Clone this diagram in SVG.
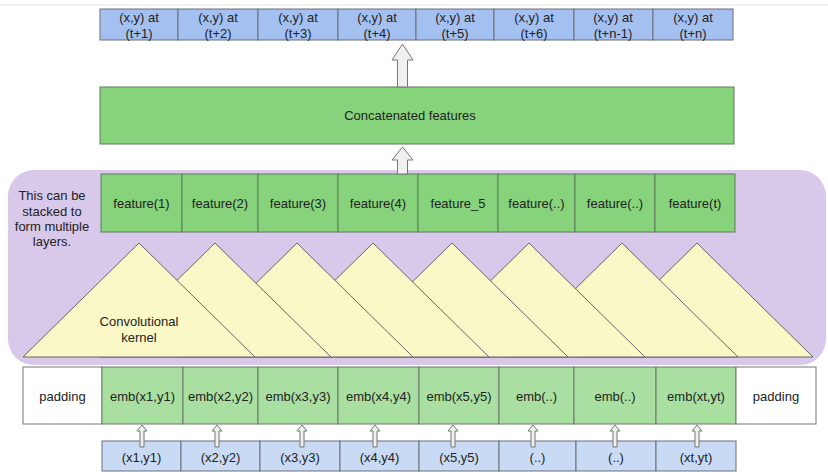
<svg xmlns="http://www.w3.org/2000/svg" width="828" height="472" viewBox="0 0 828 472">
<style>
text{font-family:"Liberation Sans",Arial,sans-serif;font-size:13px;fill:#222;text-anchor:middle;dominant-baseline:central}
.out{fill:#a4c0f0;stroke:#6b6f78;stroke-width:1}
.feat{fill:#87d37c;stroke:#5f7a5c;stroke-width:1}
.emb{fill:#a9dfa0;stroke:#6a7a68;stroke-width:1}
.pad{fill:#ffffff;stroke:#777;stroke-width:1}
.inp{fill:#c8daf4;stroke:#6b6f78;stroke-width:1}
.tri{fill:#fbf8c8;stroke:#666;stroke-width:1}
.arr{fill:#f0f0f0;stroke:#777;stroke-width:1}
</style>
<rect width="828" height="472" fill="#fff"/>
<line x1="0" y1="5" x2="828" y2="5" stroke="#e2e2e2" stroke-width="1"/>
<g id="layer-region">
<rect x="8" y="170" width="818" height="195" rx="26" fill="#d8c8ea"/>
<text x="52" y="195">This can be</text>
<text x="52" y="211">stacked to</text>
<text x="52" y="226">form multiple</text>
<text x="52" y="241">layers.</text>
</g>
<g id="outputs">
<g id="out1"><rect class="out" x="100" y="9" width="78" height="31"/><text x="139" y="17">(x,y) at</text><text x="139" y="33">(t+1)</text></g>
<g id="out2"><rect class="out" x="178" y="9" width="80" height="31"/><text x="218" y="17">(x,y) at</text><text x="218" y="33">(t+2)</text></g>
<g id="out3"><rect class="out" x="258" y="9" width="80" height="31"/><text x="298" y="17">(x,y) at</text><text x="298" y="33">(t+3)</text></g>
<g id="out4"><rect class="out" x="338" y="9" width="78" height="31"/><text x="377" y="17">(x,y) at</text><text x="377" y="33">(t+4)</text></g>
<g id="out5"><rect class="out" x="416" y="9" width="78" height="31"/><text x="455" y="17">(x,y) at</text><text x="455" y="33">(t+5)</text></g>
<g id="out6"><rect class="out" x="494" y="9" width="80" height="31"/><text x="534" y="17">(x,y) at</text><text x="534" y="33">(t+6)</text></g>
<g id="out7"><rect class="out" x="574" y="9" width="79" height="31"/><text x="613" y="17">(x,y) at</text><text x="613" y="33">(t+n-1)</text></g>
<g id="out8"><rect class="out" x="653" y="9" width="80" height="31"/><text x="693" y="17">(x,y) at</text><text x="693" y="33">(t+n)</text></g>
</g>
<g id="concat"><rect class="feat" x="100" y="87" width="634" height="57"/><text x="410" y="115">Concatenated features</text></g>
<g id="features">
<g id="f1"><rect class="feat" x="101" y="174" width="81" height="58"/><text x="141.5" y="203">feature(1)</text></g>
<g id="f2"><rect class="feat" x="182" y="174" width="76" height="58"/><text x="220" y="203">feature(2)</text></g>
<g id="f3"><rect class="feat" x="258" y="174" width="80" height="58"/><text x="298" y="203">feature(3)</text></g>
<g id="f4"><rect class="feat" x="338" y="174" width="80" height="58"/><text x="378" y="203">feature(4)</text></g>
<g id="f5"><rect class="feat" x="418" y="174" width="80" height="58"/><text x="458" y="203">feature_5</text></g>
<g id="f6"><rect class="feat" x="498" y="174" width="77" height="58"/><text x="536.5" y="203">feature(..)</text></g>
<g id="f7"><rect class="feat" x="575" y="174" width="80" height="58"/><text x="615" y="203">feature(..)</text></g>
<g id="f8"><rect class="feat" x="655" y="174" width="80" height="58"/><text x="695" y="203">feature(t)</text></g>
</g>
<g id="kernels">
<polygon class="tri" points="697,243 813,357 581,357"/>
<polygon class="tri" points="622,243 738,357 506,357"/>
<polygon class="tri" points="529,243 645,357 413,357"/>
<polygon class="tri" points="452,243 568,357 336,357"/>
<polygon class="tri" points="373,243 489,357 257,357"/>
<polygon class="tri" points="297,243 413,357 181,357"/>
<polygon class="tri" points="215,243 331,357 99,357"/>
<g id="kernel1"><polygon class="tri" points="139,243 255,357 23,357"/><text x="139" y="321">Convolutional</text><text x="139" y="337">kernel</text></g>
</g>
<g id="embeddings">
<g id="padL"><rect class="pad" x="23" y="367" width="79" height="57"/><text x="62.5" y="396">padding</text></g>
<g id="e1"><rect class="emb" x="102" y="367" width="81" height="57"/><text x="142.5" y="396">emb(x1,y1)</text></g>
<g id="e2"><rect class="emb" x="183" y="367" width="75" height="57"/><text x="220.5" y="396">emb(x2,y2)</text></g>
<g id="e3"><rect class="emb" x="258" y="367" width="80" height="57"/><text x="298" y="396">emb(x3,y3)</text></g>
<g id="e4"><rect class="emb" x="338" y="367" width="81" height="57"/><text x="378.5" y="396">emb(x4,y4)</text></g>
<g id="e5"><rect class="emb" x="419" y="367" width="80" height="57"/><text x="459" y="396">emb(x5,y5)</text></g>
<g id="e6"><rect class="emb" x="499" y="367" width="75" height="57"/><text x="536.5" y="396">emb(..)</text></g>
<g id="e7"><rect class="emb" x="574" y="367" width="82" height="57"/><text x="615" y="396">emb(..)</text></g>
<g id="e8"><rect class="emb" x="656" y="367" width="80" height="57"/><text x="696" y="396">emb(xt,yt)</text></g>
<g id="padR"><rect class="pad" x="736" y="367" width="80" height="57"/><text x="776" y="396">padding</text></g>
</g>
<g id="inputs">
<g id="i1"><rect class="inp" x="102" y="441" width="79" height="30"/><text x="141.5" y="457">(x1,y1)</text></g>
<g id="i2"><rect class="inp" x="181" y="441" width="79" height="30"/><text x="220.5" y="457">(x2,y2)</text></g>
<g id="i3"><rect class="inp" x="260" y="441" width="80" height="30"/><text x="300" y="457">(x3,y3)</text></g>
<g id="i4"><rect class="inp" x="340" y="441" width="79" height="30"/><text x="379.5" y="457">(x4,y4)</text></g>
<g id="i5"><rect class="inp" x="419" y="441" width="80" height="30"/><text x="459" y="457">(x5,y5)</text></g>
<g id="i6"><rect class="inp" x="499" y="441" width="77" height="30"/><text x="537.5" y="457">(..)</text></g>
<g id="i7"><rect class="inp" x="576" y="441" width="80" height="30"/><text x="616" y="457">(..)</text></g>
<g id="i8"><rect class="inp" x="656" y="441" width="80" height="30"/><text x="696" y="457">(xt,yt)</text></g>
</g>
<g id="connectors">
<polygon class="arr" points="402.5,44 413,60 407.5,60 407.5,87 397.5,87 397.5,60 392,60"/>
<polygon class="arr" points="402.5,147 413,160 407.5,160 407.5,174 397.5,174 397.5,160 392,160"/>
<polygon class="arr" points="142,425 147,431 144,431 144,447 140,447 140,431 137,431"/>
<polygon class="arr" points="217,425 222,431 219,431 219,447 215,447 215,431 212,431"/>
<polygon class="arr" points="302,425 307,431 304,431 304,447 300,447 300,431 297,431"/>
<polygon class="arr" points="375,425 380,431 377,431 377,447 373,447 373,431 370,431"/>
<polygon class="arr" points="453,425 458,431 455,431 455,447 451,447 451,431 448,431"/>
<polygon class="arr" points="533,425 538,431 535,431 535,447 531,447 531,431 528,431"/>
<polygon class="arr" points="615,425 620,431 617,431 617,447 613,447 613,431 610,431"/>
<polygon class="arr" points="697,425 702,431 699,431 699,447 695,447 695,431 692,431"/>
</g>
</svg>
